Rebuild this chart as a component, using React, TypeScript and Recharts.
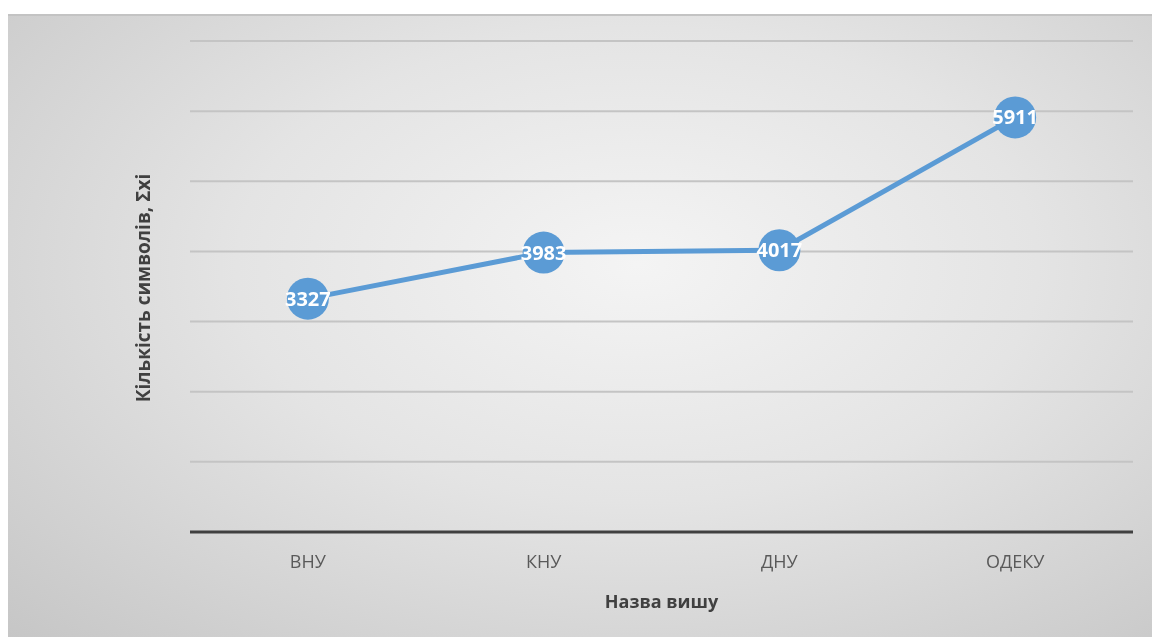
import { CartesianGrid, LabelList, Line, LineChart, XAxis, YAxis } from 'recharts'

const universities = ['ВНУ', 'КНУ', 'ДНУ', 'ОДЕКУ']
const symbolCounts = [3327, 3983, 4017, 5911]
const yTicks = [0, 1000, 2000, 3000, 4000, 5000, 6000, 7000]

const data = universities.map((name, i) => ({ name, value: symbolCounts[i] }))

const fontFamily = '"Open Sans", "Noto Sans", sans-serif'

function Dot(props: any) {
  const { cx, cy } = props
  if (cx == null || cy == null) return null
  return <circle cx={cx} cy={cy} r={21} fill="#5b9bd5" />
}

function ValueLabel(props: any) {
  const { x, y, value } = props
  return (
    <text
      x={x}
      y={y}
      dy={7}
      textAnchor="middle"
      fill="#ffffff"
      fontFamily={fontFamily}
      fontWeight={700}
      fontSize={20}
    >
      {value}
    </text>
  )
}

export default function App() {
  return (
    <div
      style={{
        position: 'fixed',
        left: 8,
        top: 14,
        width: 1144,
        height: 623,
        borderTop: '2px solid #c3c3c3',
        boxSizing: 'border-box',
        background: 'radial-gradient(ellipse at 55% 40%, #f4f4f4 0%, #e4e4e4 45%, #c6c6c6 100%)'
      }}
    >
      <LineChart
        width={1144}
        height={621}
        data={data}
        margin={{ top: 25, right: 19, bottom: 75, left: 182 }}
      >
        <CartesianGrid vertical={false} stroke="#c4c4c4" strokeWidth={2} />
        <XAxis
          dataKey="name"
          scale="band"
          height={30}
          axisLine={{ stroke: '#404040', strokeWidth: 3 }}
          tickLine={false}
          tickMargin={17}
          tick={{ fill: '#595959', fontSize: 18, fontFamily }}
          label={{
            value: 'Назва вишу',
            position: 'insideBottom',
            offset: -46,
            fill: '#404040',
            fontSize: 18,
            fontWeight: 700,
            fontFamily
          }}
        />
        <YAxis hide domain={[0, 7000]} ticks={yTicks} />
        <Line
          type="linear"
          dataKey="value"
          stroke="#5b9bd5"
          strokeWidth={5}
          dot={<Dot />}
          activeDot={false}
          isAnimationActive={false}
        >
          <LabelList dataKey="value" content={<ValueLabel />} />
        </Line>
      </LineChart>
      <div
        style={{
          position: 'absolute',
          left: 135,
          top: 272,
          transform: 'translate(-50%, -50%) rotate(-90deg)',
          whiteSpace: 'nowrap',
          fontFamily,
          fontWeight: 700,
          fontSize: 19,
          color: '#404040'
        }}
      >
        Кількість символів, Σхі
      </div>
    </div>
  )
}
